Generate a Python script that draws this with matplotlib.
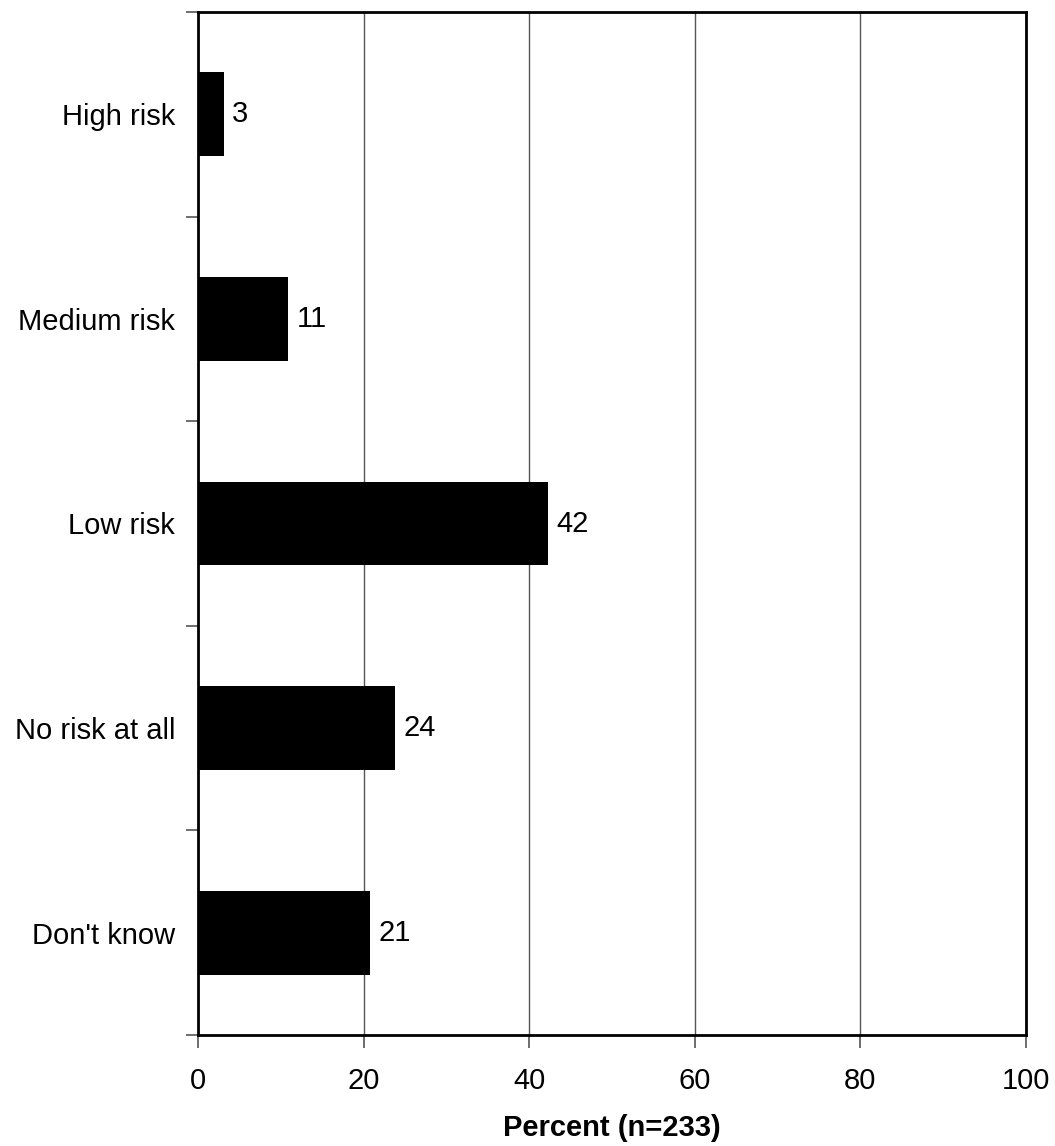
import matplotlib
matplotlib.use("Agg")
import matplotlib.pyplot as plt
import numpy as np

plt.rcParams['font.family'] = ['Liberation Sans', 'DejaVu Sans']

categories = ["High risk", "Medium risk", "Low risk", "No risk at all", "Don't know"]
values = [3, 11, 42, 24, 21]
bar_widths = [3.1, 10.9, 42.3, 23.8, 20.8]
x_ticks = [0, 20, 40, 60, 80, 100]

FS = 21

fig = plt.figure(figsize=(10.55, 11.46), dpi=100)
ax = fig.add_axes([198/1055, 1 - 1035/1146, (1026-198)/1055, (1035-12)/1146])

y = np.arange(len(categories))[::-1]
ax.barh(y, bar_widths, height=0.41, color='black', zorder=3)
for yi, w, v in zip(y, bar_widths, values):
    ax.text(w + 1.0, yi, str(v), va='center', ha='left', fontsize=FS, zorder=4)

ax.set_xlim(0, 100)
ax.set_ylim(-0.5, len(categories) - 0.5)
ax.set_xticks(x_ticks)
ax.set_xticklabels([str(t) for t in x_ticks], fontsize=FS)
ax.set_yticks(y)
ax.set_yticklabels(categories, fontsize=FS)
ax.tick_params(axis='y', which='major', length=0, pad=16.5)
ax.set_yticks(np.arange(-0.5, len(categories)), minor=True)
ax.tick_params(axis='y', which='minor', length=9, width=1.2, color='#555555')
ax.tick_params(axis='x', which='major', length=9, width=1.2, color='#555555', pad=14)

ax.grid(axis='x', color='#555555', linewidth=1.0, zorder=0)
for s in ax.spines.values():
    s.set_linewidth(2)
    s.set_color('black')

ax.set_xlabel("Percent (n=233)", fontsize=FS, fontweight='bold', labelpad=14)

fig.savefig("out.png", dpi=100)
